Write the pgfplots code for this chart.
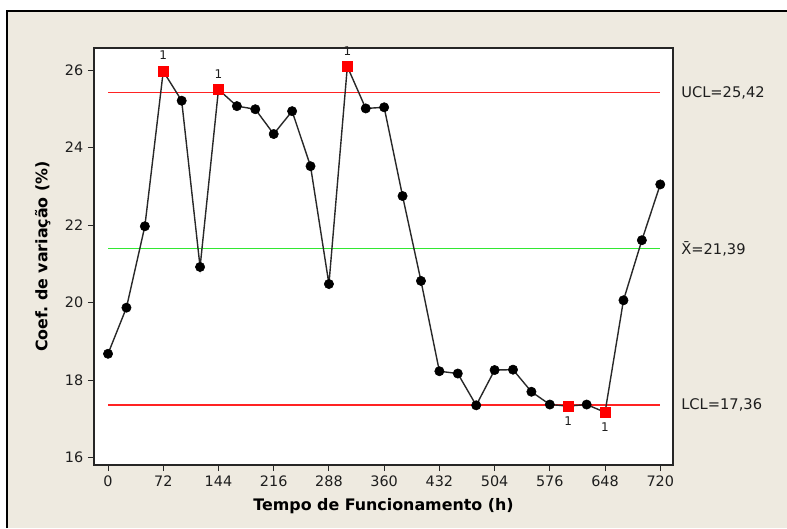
\documentclass[border=0pt]{standalone}
\usepackage{fontspec}
\setmainfont{DejaVu Sans}
\usepackage{pgfplots}
\usepackage{pgfplotstable}
\pgfplotsset{compat=1.18}
\definecolor{bg}{RGB}{238,234,224}
\definecolor{ucl}{RGB}{255,35,35}
\definecolor{cl}{RGB}{50,232,50}
\definecolor{ln}{RGB}{40,40,40}
\definecolor{txt}{RGB}{30,30,30}

\pgfplotstableread{
x y
0 18.68
24 19.87
48 21.97
72 25.97
96 25.21
120 20.92
144 25.50
168 25.07
192 24.99
216 24.35
240 24.94
264 23.52
288 20.48
312 26.09
336 25.01
360 25.04
384 22.75
408 20.56
432 18.23
456 18.17
480 17.35
504 18.26
528 18.27
552 17.70
576 17.37
600 17.33
624 17.37
648 17.17
672 20.06
696 21.61
720 23.05
}\alldata

\pgfplotstableread{
x y
0 18.68
24 19.87
48 21.97
96 25.21
120 20.92
168 25.07
192 24.99
216 24.35
240 24.94
264 23.52
288 20.48
336 25.01
360 25.04
384 22.75
408 20.56
432 18.23
456 18.17
480 17.35
504 18.26
528 18.27
552 17.70
576 17.37
624 17.37
672 20.06
696 21.61
720 23.05
}\incontrol

\pgfplotstableread{
x y
72 25.97
144 25.50
312 26.09
}\highout

\pgfplotstableread{
x y
600 17.33
648 17.17
}\lowout

\begin{document}
\begin{tikzpicture}
\useasboundingbox (-70.5pt,-47.25pt) rectangle (519.75pt,348.75pt);
\fill[white] (-70.5pt,-47.25pt) rectangle (519.75pt,348.75pt);
\fill[bg] (-65.25pt,-47.25pt) rectangle (519.75pt,340.5pt);
\draw[black,line width=1.1pt] (-65.25pt,-47.25pt) -- (-65.25pt,340.5pt) -- (519.75pt,340.5pt);
\begin{axis}[
  at={(0,0)}, anchor=south west, scale only axis,
  width=434.25pt, height=312.75pt,
  xmin=-18.3, xmax=736.6, ymin=15.81, ymax=26.57,
  xtick={0,72,144,216,288,360,432,504,576,648,720},
  ytick={16,18,20,22,24,26},
  axis background/.style={fill=white},
  axis line style={line width=1.1pt, black!85},
  tick align=outside, tick pos=left, major tick length=4.5pt,
  every tick/.style={black!85, line width=0.8pt},
  tick label style={font=\fontsize{10.8}{13}\selectfont, text=txt},
  /pgf/number format/assume math mode=true,
  xlabel={Tempo de Funcionamento (h)},
  ylabel={Coef.\ de variação (\%)},
  label style={font=\fontsize{11.9}{14}\selectfont\bfseries, text=black},
  xlabel style={at={(axis description cs:0.5,-0.0983)}, anchor=center},
  ylabel style={at={(axis description cs:-0.0886,0.5)}, anchor=center},
  clip=false,
]
\addplot[ucl, line width=1.1pt] coordinates {(0,25.42) (720,25.42)};
\addplot[ucl, line width=1.1pt] coordinates {(0,17.36) (720,17.36)};
\addplot[cl, line width=1.1pt] coordinates {(0,21.39) (720,21.39)};
\addplot[ln, line width=1.05pt, no marks] table[x=x,y=y] {\alldata};
\addplot[only marks, mark=*, mark size=3.5pt, mark options={fill=black, draw=black}] table[x=x,y=y] {\incontrol};
\addplot[only marks, mark=square*, mark size=3.7pt, mark options={fill=red, draw=red},
  nodes near coords={1},
  every node near coord/.style={font=\fontsize{9}{10}\selectfont, text=txt, anchor=south, inner sep=0pt, yshift=8.3pt}]
  table[x=x,y=y] {\highout};
\addplot[only marks, mark=square*, mark size=3.7pt, mark options={fill=red, draw=red},
  nodes near coords={1},
  every node near coord/.style={font=\fontsize{9}{10}\selectfont, text=txt, anchor=north, inner sep=0pt, yshift=-7.5pt}]
  table[x=x,y=y] {\lowout};
\node[anchor=west, inner sep=0pt, xshift=6pt, font=\fontsize{11}{13}\selectfont, text=txt] at (axis cs:736.6,25.42) {UCL=25,42};
\node[anchor=west, inner sep=0pt, xshift=6pt, font=\fontsize{11}{13}\selectfont, text=txt] at (axis cs:736.6,21.39) {\={X}=21,39};
\node[anchor=west, inner sep=0pt, xshift=6pt, font=\fontsize{11}{13}\selectfont, text=txt] at (axis cs:736.6,17.36) {LCL=17,36};
\end{axis}
\end{tikzpicture}
\end{document}
